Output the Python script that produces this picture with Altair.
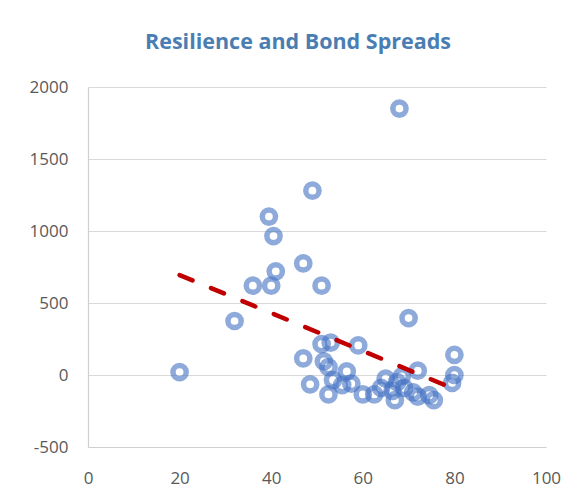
import altair as alt
import pandas as pd

# Data
resilience = [20, 32, 36, 39.5, 40, 40.5, 41, 47, 47, 49, 48.5, 51, 51, 53, 51.5,
              52.5, 53.5, 52.5, 56.5, 57.5, 55.5, 59, 60, 62.5, 65, 64, 67, 67.5,
              69, 72, 72, 74.5, 75.5, 80, 80, 79.5, 70, 68, 68.5, 66.5, 71]
spreads = [20, 375, 620, 1100, 620, 965, 720, 775, 115, 1280, -65, 620, 215, 225, 95,
           55, -35, -135, 25, -60, -70, 205, -135, -135, -25, -90, -175, -50,
           -90, 30, -150, -140, -175, 140, 0, -55, 395, 1850, -10, -110, -120]

trend_x = [20, 80]
trend_y = [694, -97]

x_ticks = [0, 20, 40, 60, 80, 100]
y_ticks = [-500, 0, 500, 1000, 1500, 2000]

df = pd.DataFrame({"resilience": resilience, "spread": spreads})
tdf = pd.DataFrame({"resilience": trend_x, "spread": trend_y})

FONT = "Open Sans"
x_scale = alt.Scale(domain=[0, 100], nice=False, zero=False)
y_scale = alt.Scale(domain=[-500, 2000], nice=False, zero=False)

x_enc = alt.X("resilience:Q", scale=x_scale,
              axis=alt.Axis(values=x_ticks, grid=False, ticks=False, title=None,
                            labelExpr="'' + datum.value", labelFlush=False,
                            labelPadding=23, labelFontSize=17, labelFont=FONT,
                            labelColor="#595959", domainColor="#D0D0D0",
                            domainWidth=1.2))
y_enc = alt.Y("spread:Q", scale=y_scale,
              axis=alt.Axis(values=y_ticks, grid=True, gridColor="#D9D9D9",
                            gridWidth=1.2, ticks=False, title=None,
                            labelExpr="'' + datum.value", labelFlush=False,
                            labelPadding=20, labelFontSize=17, labelFont=FONT,
                            labelColor="#595959", domainColor="#D0D0D0",
                            domainWidth=1.2))

points = alt.Chart(df).mark_point(
    filled=False, size=175, strokeWidth=5.5, color="#4472C4", opacity=0.6
).encode(x=x_enc, y=y_enc)

trend = alt.Chart(tdf).mark_line(
    color="#C00000", strokeWidth=4.5, strokeDash=[14, 20], strokeCap="round"
).encode(x=alt.X("resilience:Q", scale=x_scale), y=alt.Y("spread:Q", scale=y_scale))

chart = alt.layer(points, trend).properties(
    width=458, height=360,
    padding={"left": 80, "top": 79, "right": 20, "bottom": 40},
    autosize=alt.AutoSizeParams(type="none"),
    title=alt.TitleParams("Resilience and Bond Spreads", fontSize=21.5, font=FONT,
                          fontWeight="bold", color="#4A7EB3", offset=25,
                          anchor="middle", dx=-19),
).configure_view(stroke=None)

chart.save("out.html", embed_options={"renderer": "svg", "actions": False})
